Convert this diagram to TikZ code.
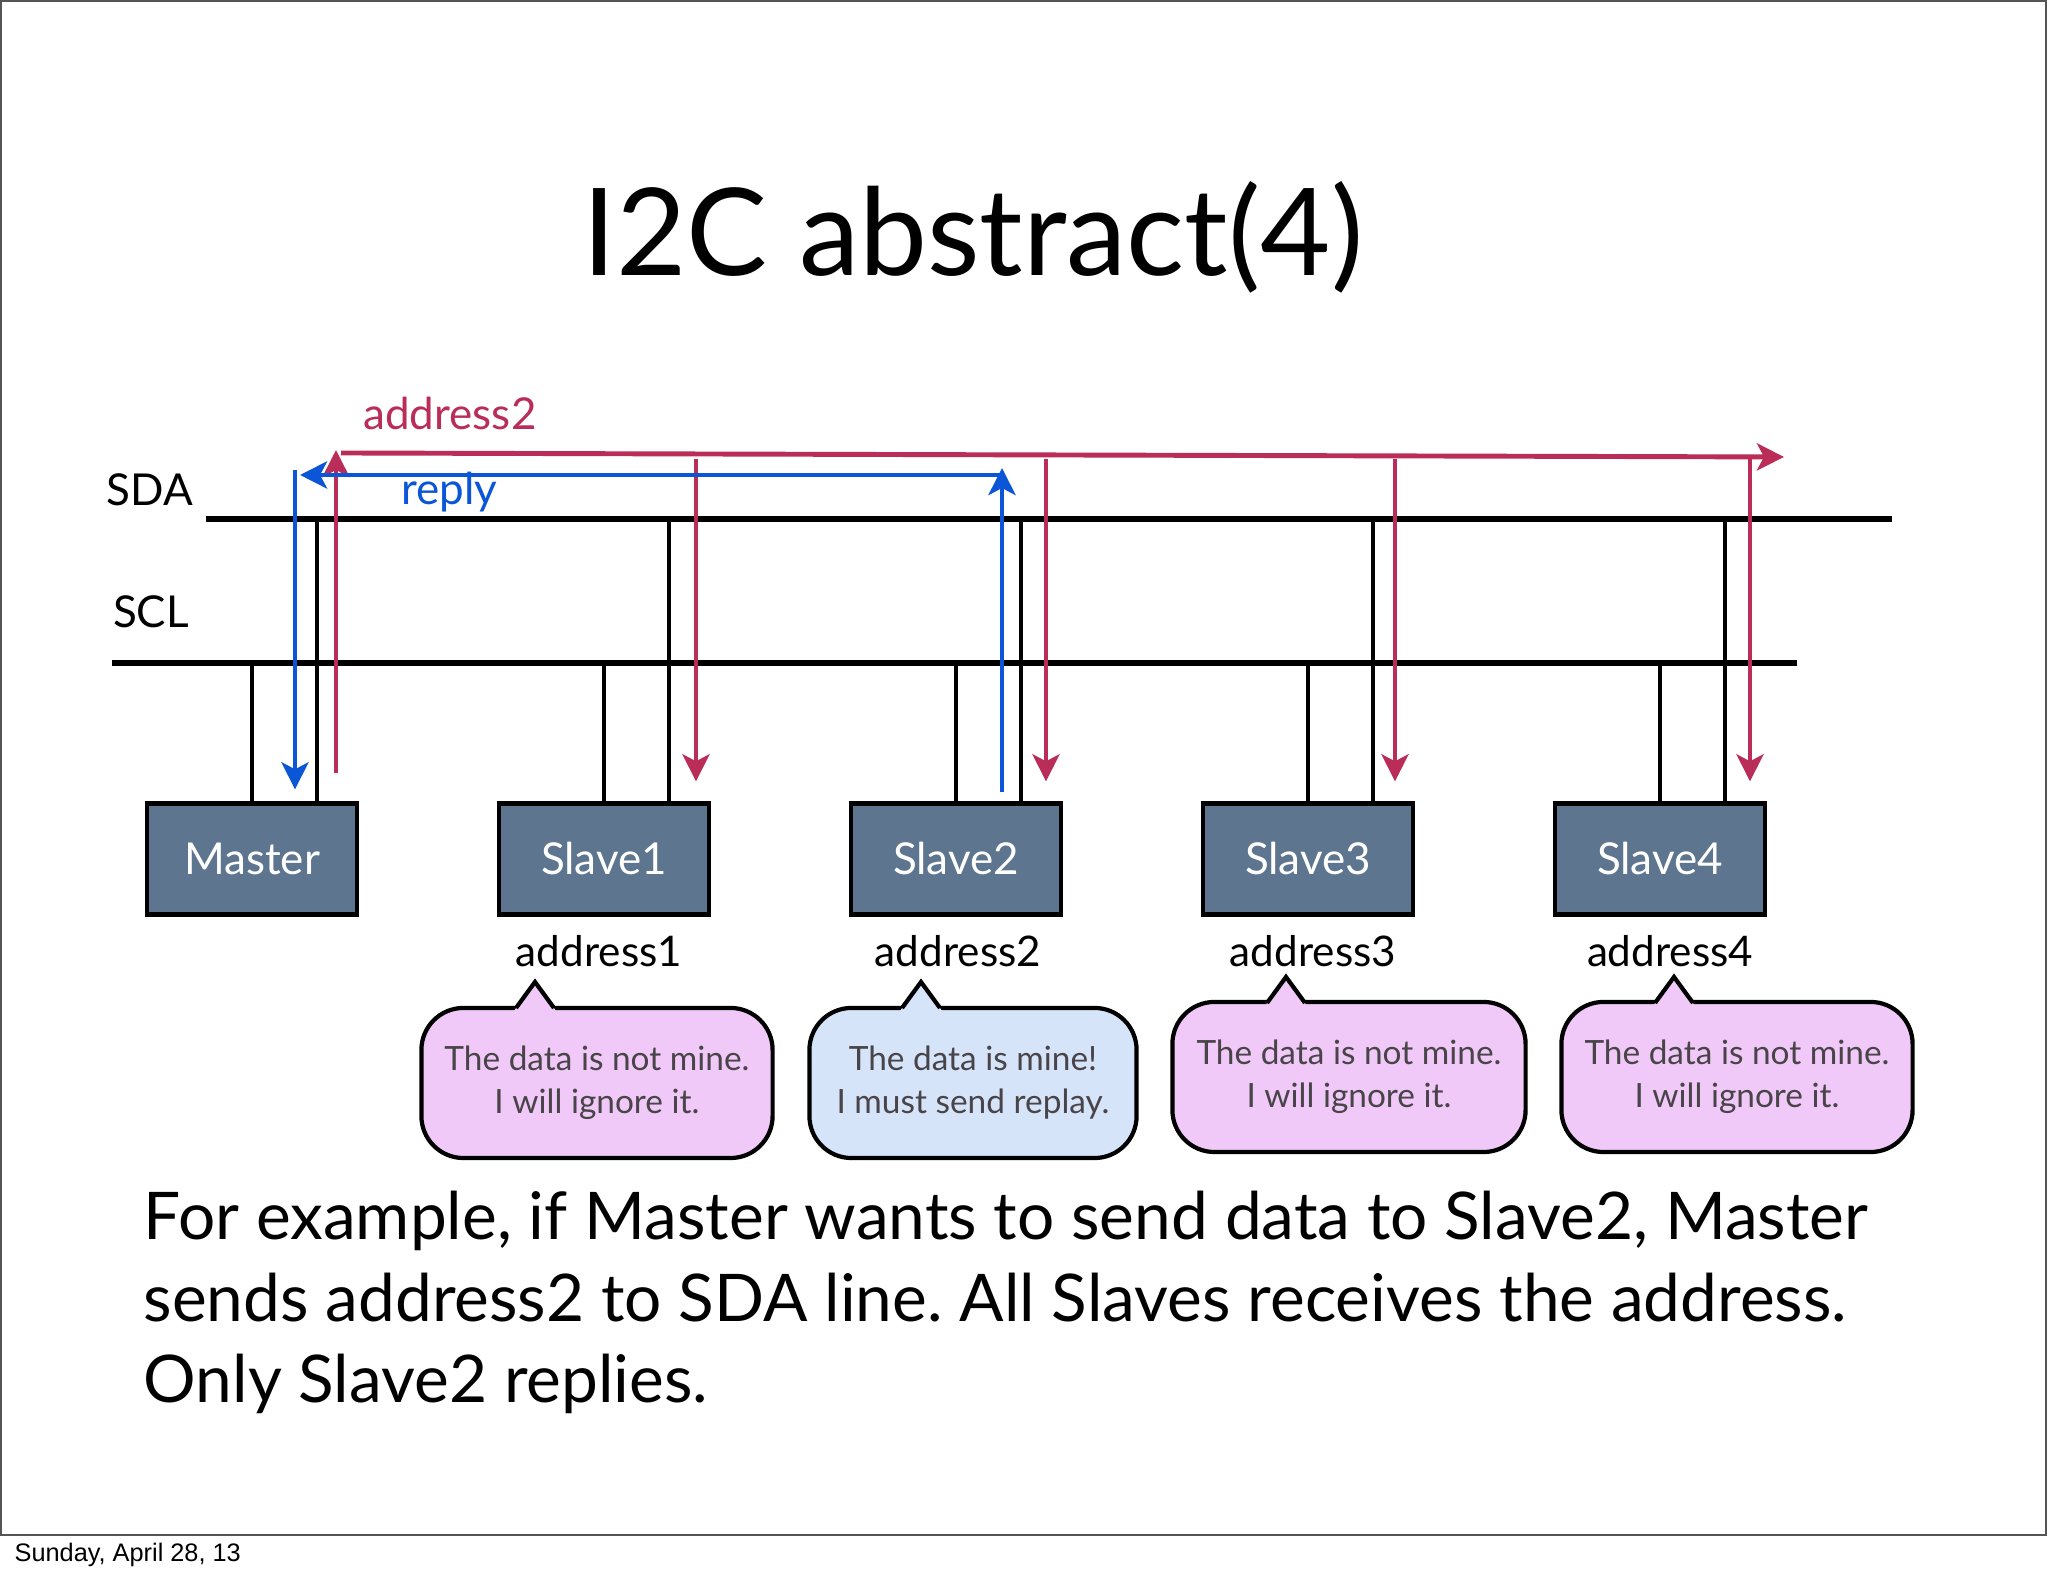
\documentclass[tikz,border=0pt]{standalone}
\usepackage{fontspec}
\setmainfont{Lato}
\newfontfamily\datefont{Liberation Sans}
\usetikzlibrary{arrows.meta,calc,positioning}
\frenchspacing

\definecolor{unitfill}{RGB}{94,117,144}
\definecolor{addrred}{RGB}{186,45,88}
\definecolor{replyblue}{RGB}{10,86,214}
\definecolor{notmine}{RGB}{240,201,248}
\definecolor{mine}{RGB}{214,228,250}
\definecolor{notegray}{RGB}{72,68,72}
\definecolor{framegray}{RGB}{85,85,85}

\tikzset{
  bus/.style={line width=1.7pt},
  stub/.style={line width=1.3pt},
  unit/.style={draw, line width=1.2pt, fill=unitfill, minimum width=2.1cm,
    minimum height=1.11cm, text=white, font=\fontsize{12.5}{15}\selectfont},
  busname/.style={font=\fontsize{12.5}{15}\selectfont},
  addrlabel/.style={font=\fontsize{12}{14}\selectfont},
  bubble/.style={draw, line width=1.2pt, rounded corners=0.42cm, align=center,
    text=notegray, minimum height=1.5cm, font=\fontsize{9.5}{12.2}\selectfont},
  tipline/.style={line width=1.2pt, line join=miter},
  sendarrow/.style={addrred, line width=1.4pt,
    -{Stealth[length=0.27cm,width=0.27cm,inset=0.07cm]}},
  replyarrow/.style={replyblue, line width=1.4pt,
    -{Stealth[length=0.27cm,width=0.27cm,inset=0.07cm]}}
}

\begin{document}
\begin{tikzpicture}[x=0.01cm, y=0.01cm]
  \useasboundingbox (0,0) rectangle (2048,1576);
  % slide frame and date
  \draw[framegray, line width=0.6pt] (1,41) rectangle (2046,1575);
  \node[anchor=base west, inner sep=0, font=\datefont\fontsize{7.2}{9}\selectfont] (date) at (14,14) {Sunday, April 28, 13};

  % title
  \node[anchor=base, font=\fontsize{34.5}{40}\selectfont] (title) at (973,1300) {I2C abstract(4)};

  % bus lines
  \coordinate (sda) at (0,1057);
  \coordinate (scl) at (0,913);
  \draw[bus] (206,1057) -- (1892,1057);
  \draw[bus] (112,913) -- (1797,913);
  \node[busname] (sdaname) at (150,1086) {SDA};
  \node[busname] (sclname) at (151,964) {SCL};

  % units
  \foreach \n/\t/\x in {master/Master/252, slave1/Slave1/604, slave2/Slave2/956,
                        slave3/Slave3/1308, slave4/Slave4/1660} {
    \node[unit] (\n) at (\x,717) {\t};
    \coordinate (\n-d) at ($(\n.north)+(65,0)$);
    \draw[stub] (\n.north) -- (\n.north |- scl);
    \draw[stub] (\n-d) -- (\n-d |- sda);
  }

  % address2 sent by master
  \node[anchor=base, text=addrred, busname] (sendname) at (450,1146) {address2};
  \draw[sendarrow] ($(master.north)+(84,28)$) -- (336,1126);
  \draw[sendarrow] (341,1123) -- (1784,1119);
  \foreach \n/\dx in {slave1/92, slave2/90, slave3/87, slave4/90}
    \draw[sendarrow] ($(\n.north)+(\dx,342)$) -- ($(\n.north)+(\dx,20)$);

  % reply from slave2
  \node[anchor=base, text=replyblue, busname] (replyname) at (449,1071) {reply};
  \draw[replyarrow] ($(slave2.north)+(46,9)$) -- (1002,1108);
  \draw[replyarrow] (1001,1101) -- (300,1101);
  \draw[replyarrow] (295,1106) -- ($(master.north)+(43,12)$);

  % addresses
  \foreach \i/\x in {1/599, 2/958, 3/1313, 4/1670}
    \node[addrlabel, anchor=base] (addr\i) at (\x,609) {address\i};

  % speech bubbles
  \node[bubble, fill=notmine, minimum width=3.51cm] (note1) at (597,493) {The data is not mine.\\I will ignore it.};
  \node[bubble, fill=mine, minimum width=3.27cm] (note2) at (973,493) {The data is mine!\\I must send replay.};
  \node[bubble, fill=notmine, minimum width=3.53cm] (note3) at (1349,499) {The data is not mine.\\I will ignore it.};
  \node[bubble, fill=notmine, minimum width=3.51cm] (note4) at (1737,499) {The data is not mine.\\I will ignore it.};
  \foreach \i/\x/\y/\c in {1/535/594/notmine, 2/921/594/mine, 3/1286/599/notmine, 4/1674/599/notmine} {
    \coordinate (tip\i) at (\x,\y);
    \fill[\c] ($(tip\i)+(-22.5,-31)$) -- (tip\i) -- ($(tip\i)+(22.5,-31)$) -- cycle;
    \draw[tipline] ($(tip\i)+(-19,-26)$) -- (tip\i) -- ($(tip\i)+(19,-26)$);
  }

  % explanation
  \node[anchor=base west, inner sep=0, align=left, font=\fontsize{18.7}{23.2}\selectfont] (expl) at (143,173)
    {For example, if Master wants to send data to Slave2, Master\\
     sends address2 to SDA line. All Slaves receives the address.\\
     Only Slave2 replies.};
\end{tikzpicture}
\end{document}
